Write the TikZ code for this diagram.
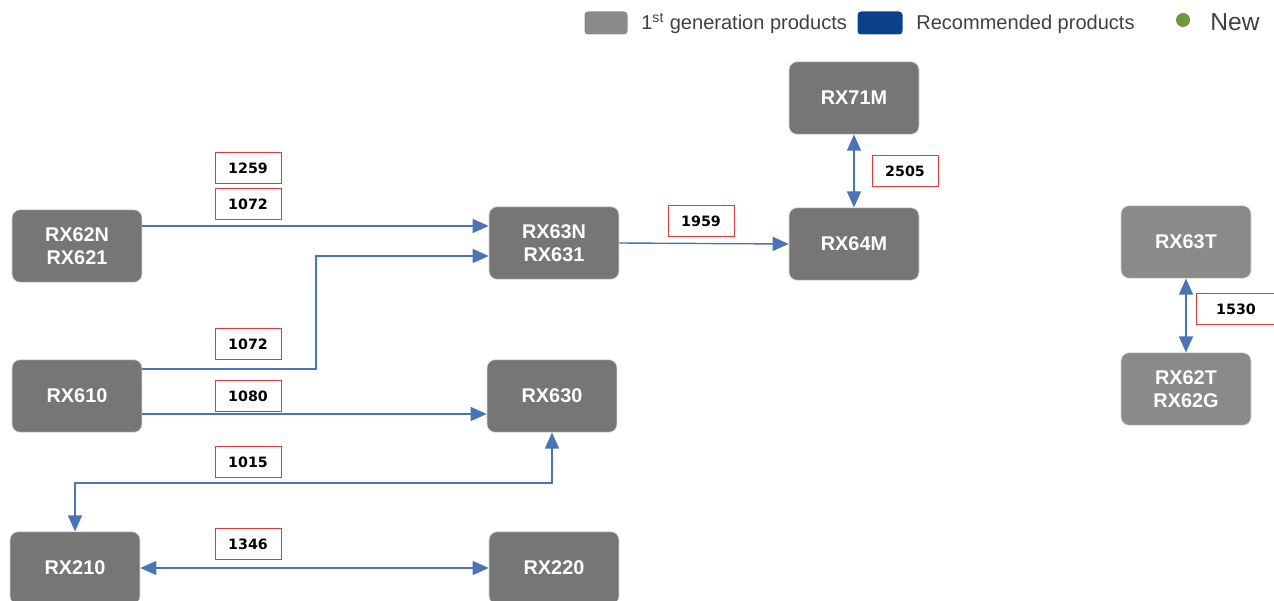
\documentclass[tikz,border=0pt]{standalone}
\usepackage{fontspec}
\setmainfont{Liberation Sans}
\newfontfamily\numfont{DejaVu Sans}
\usetikzlibrary{arrows.meta,positioning}
\definecolor{boxgray}{HTML}{767676}
\definecolor{oldgray}{HTML}{8A8A8A}
\definecolor{linkblue}{HTML}{4A74B4}
\definecolor{recblue}{HTML}{0B408B}
\definecolor{newgreen}{HTML}{6B9A3A}
\definecolor{tagred}{HTML}{E03A3A}

\begin{document}
\begin{tikzpicture}[x=0.02cm,y=-0.02cm,
  part/.style={draw=white!85!black,fill=boxgray,rounded corners=0.16cm,minimum width=2.6cm,minimum height=1.45cm,text=white,align=center,font=\fontsize{11.3}{13}\selectfont\bfseries},
  oldpart/.style={part,fill=oldgray},
  tag/.style={draw=tagred,fill=white,minimum width=1.32cm,minimum height=0.62cm,inner sep=0pt,font=\numfont\fontsize{8.1}{9}\selectfont\bfseries},
  link/.style={draw=linkblue,line width=0.8pt,-{Triangle[length=0.32cm,width=0.28cm]}},
  both/.style={link,{Triangle[length=0.32cm,width=0.28cm]}-{Triangle[length=0.32cm,width=0.28cm]}},
  keytext/.style={anchor=west,inner sep=0pt,text=black!75,font=\fontsize{11.4}{13}\selectfont}]
\useasboundingbox (0,0) rectangle (1274,601);

% legend
\node[fill=oldgray,rounded corners=2pt,minimum width=0.86cm,minimum height=0.46cm] (keyold) at (606,23) {};
\node[keytext] (keyoldtxt) at (641,24) {1\textsuperscript{st} generation products};
\node[fill=recblue,rounded corners=2pt,minimum width=0.9cm,minimum height=0.46cm] (keyrec) at (880,23) {};
\node[keytext] (keyrectxt) at (916,24) {Recommended products};
\node[circle,fill=newgreen,minimum size=0.28cm,inner sep=0pt] (keynew) at (1183,20) {};
\node[keytext,font=\fontsize{14}{16}\selectfont] (keynewtxt) at (1210,22) {New};

% products
\node[part] (rx71m) at (854,98) {RX71M};
\node[part] (rx62n) at (77,246) {RX62N\\RX621};
\node[part] (rx63n) at (554,243) {RX63N\\RX631};
\node[part] (rx64m) at (854,244) {RX64M};
\node[oldpart] (rx63t) at (1186,242) {RX63T};
\node[part] (rx610) at (77,396) {RX610};
\node[part] (rx630) at (552,396) {RX630};
\node[oldpart] (rx62t) at (1186,389) {RX62T\\RX62G};
\node[part] (rx210) at (75,568) {RX210};
\node[part] (rx220) at (554,568) {RX220};

% connections
\coordinate (knee) at (316,256);
\coordinate (split) at (300,483);
\draw[link] ([yshift=0.4cm]rx62n.east) -- ([yshift=0.4cm]rx62n.east -| rx63n.west);
\draw[link] ([yshift=0.54cm]rx610.east) -| (knee) -- (knee -| rx63n.west);
\draw[link] ([yshift=-0.36cm]rx610.east) -- ([yshift=-0.36cm]rx610.east -| rx630.west);
\draw[both] (rx630.south) |- (split) -| (rx210.north);
\draw[both] (rx210.east) -- (rx220.west);
\draw[link] (rx63n.east) -- (rx64m.west);
\draw[both] (rx71m.south) -- (rx64m.north);
\draw[both] (rx63t.south) -- (rx62t.north);

% application notes
\node[tag] (t1259) at (248,168) {1259};
\node[tag] (t1072a) at (248,204) {1072};
\node[tag] (t1072b) at (248,344) {1072};
\node[tag] (t1080) at (248,396) {1080};
\node[tag] (t1015) at (248,462) {1015};
\node[tag] (t1346) at (248,544) {1346};
\node[tag] (t1959) at (701,221) {1959};
\node[tag] (t2505) at (905,171) {2505};
\node[tag,minimum width=1.6cm] (t1530) at (1236,309) {1530};
\end{tikzpicture}
\end{document}
